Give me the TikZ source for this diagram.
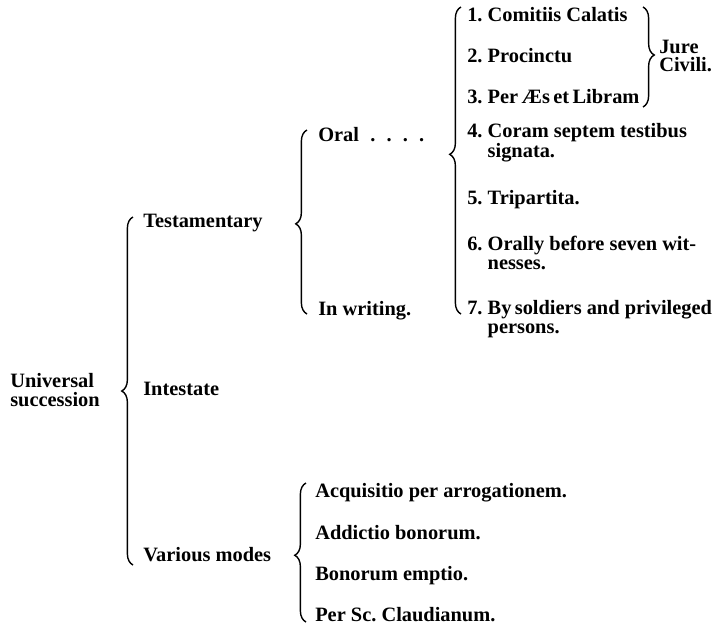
\documentclass[tikz,border=0pt]{standalone}
\usepackage{fontspec}
\setmainfont{Liberation Serif}
\usetikzlibrary{decorations.pathreplacing}
\frenchspacing

\tikzset{
    lbl/.style={anchor=west, inner sep=0pt, align=left,
        font=\bfseries\fontsize{14.5}{13}\selectfont},
    brc/.style={decorate, decoration={brace, amplitude=8pt, aspect=#1},
        line width=1pt},
    brc/.default=0.5
}

\begin{document}
\begin{tikzpicture}[x=0.025cm, y=-0.025cm]
    \useasboundingbox (0,0) rectangle (718,627);

    \node[lbl] (us) at (10,390) {Universal\\succession};

    \node[lbl] (testa) at (143,223) {Testamentary};
    \node[lbl] (intest) at (143,389) {Intestate};
    \node[lbl] (various) at (143,555) {Various modes};

    \node[lbl] (oral) at (318,135) {Oral\hspace{0.55em}.\hspace{0.55em}.\hspace{0.55em}.\hspace{0.55em}.};
    \node[lbl] (writing) at (318,311) {In writing.};

    \node[lbl] (i1) at (467,15) {1. Comitiis Calatis};
    \node[lbl] (i2) at (467,56) {2. Procinctu};
    \node[lbl] (i3) at (467,97) {3. Per\,Æs\,et\,Libram};
    \node[lbl] (i4) at (467,143) {4. Coram septem testibus\\\hspace*{1em}signata.};
    \node[lbl] (i5) at (467,200) {5. Tripartita.};
    \node[lbl] (i6) at (467,253) {6. Orally before seven wit-\\\hspace*{1em}nesses.};
    \node[lbl] (i7) at (467,319) {7. By\,soldiers and privileged\\\hspace*{1em}persons.};

    \node[lbl] (jure) at (659,56) {Jure\\Civili.};

    \node[lbl] (m1) at (315,493) {Acquisitio per arrogationem.};
    \node[lbl] (m2) at (315,533) {Addictio bonorum.};
    \node[lbl] (m3) at (315,576) {Bonorum emptio.};
    \node[lbl] (m4) at (315,615) {Per Sc. Claudianum.};

    % brace ends
    \coordinate (usT) at (133,217);
    \coordinate (usB) at (133,565);
    \coordinate (testaT) at (307,130);
    \coordinate (testaB) at (307,314);
    \coordinate (oralT) at (461,7);
    \coordinate (oralB) at (461,314);
    \coordinate (jureT) at (643,7);
    \coordinate (jureB) at (643,107);
    \coordinate (varT) at (306,483);
    \coordinate (varB) at (306,622);

    \draw[brc=0.5] (usB) -- (usT);
    \draw[brc=0.49] (testaB) -- (testaT);
    \draw[brc=0.52] (oralB) -- (oralT);
    \draw[brc=0.48] (jureT) -- (jureB);
    \draw[brc=0.48] (varB) -- (varT);
\end{tikzpicture}
\end{document}
